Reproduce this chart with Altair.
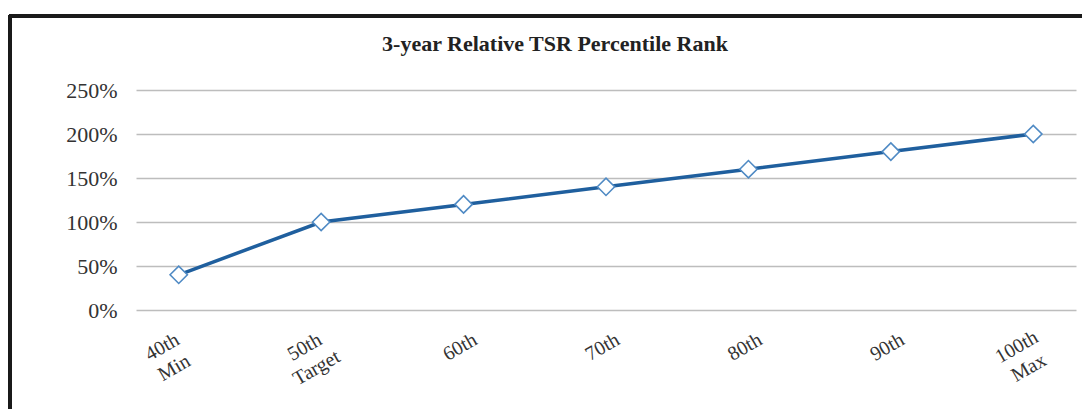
import altair as alt
import pandas as pd

categories = ["40th\nMin", "50th\nTarget", "60th", "70th", "80th", "90th", "100th\nMax"]
values = [40, 100, 120, 140, 160, 180, 200]

df = pd.DataFrame({"rank": categories, "pct": values, "order": list(range(len(categories)))})

SERIF = "Liberation Serif"
TWO_LINE = "length(datum.value) > 5"

x = alt.X("rank:N", sort=categories, title=None,
          scale=alt.Scale(type="point", padding=0.3),
          axis=alt.Axis(labelAngle=330, labelAlign="center", labelBaseline="top",
                        labelExpr="split(datum.label, '\\n')",
                        labelFont=SERIF, labelFontSize=20, labelColor="#333333",
                        labelPadding=28,
                        labelOffset={"condition": {"test": TWO_LINE, "value": -22}, "value": -9},
                        ticks=False, domain=False, grid=False,
                        labelLineHeight=24, labelBound=False, labelOverlap=False))
y = alt.Y("pct:Q", title=None,
          scale=alt.Scale(domain=[0, 250]),
          axis=alt.Axis(values=[0, 50, 100, 150, 200, 250],
                        labelExpr="datum.value + '%'",
                        labelFont=SERIF, labelFontSize=22, labelColor="#333333",
                        labelPadding=19, ticks=False, domain=False,
                        grid=True, gridColor="#bdbdbd", gridWidth=1.5))

base = alt.Chart(df)

line = base.mark_line(color="#1f5f9e", strokeWidth=3.5).encode(x=x, y=y, order="order:Q")
pts = base.mark_point(shape="diamond", filled=True, fill="white", stroke="#4f8ac4",
                      strokeWidth=1.6, size=300, opacity=1).encode(x=x, y=y)

frame_top = alt.Chart(df).mark_rule(color="#1a1a1a", strokeWidth=3.5).encode(
    x=alt.value(-127), x2=alt.value(960), y=alt.value(-74))
frame_left = alt.Chart(df).mark_rule(color="#1a1a1a", strokeWidth=3.5).encode(
    x=alt.value(-126), y=alt.value(-75), y2=alt.value(320))

chart = alt.layer(frame_top, frame_left, line, pts).properties(
    width=940, height=220,
    background="white",
    title=alt.TitleParams("3-year Relative TSR Percentile Rank", font=SERIF, fontSize=22,
                          fontWeight="bold", color="#222222", anchor="middle",
                          baseline="bottom",
                          frame="group", dx=-51, offset=-65),
    autosize=alt.AutoSizeParams(type="none"),
    padding={"left": 128, "top": 82, "right": 6, "bottom": 99},
).configure_view(stroke=None)

chart.save("out.html", embed_options={"renderer": "svg", "actions": False})
